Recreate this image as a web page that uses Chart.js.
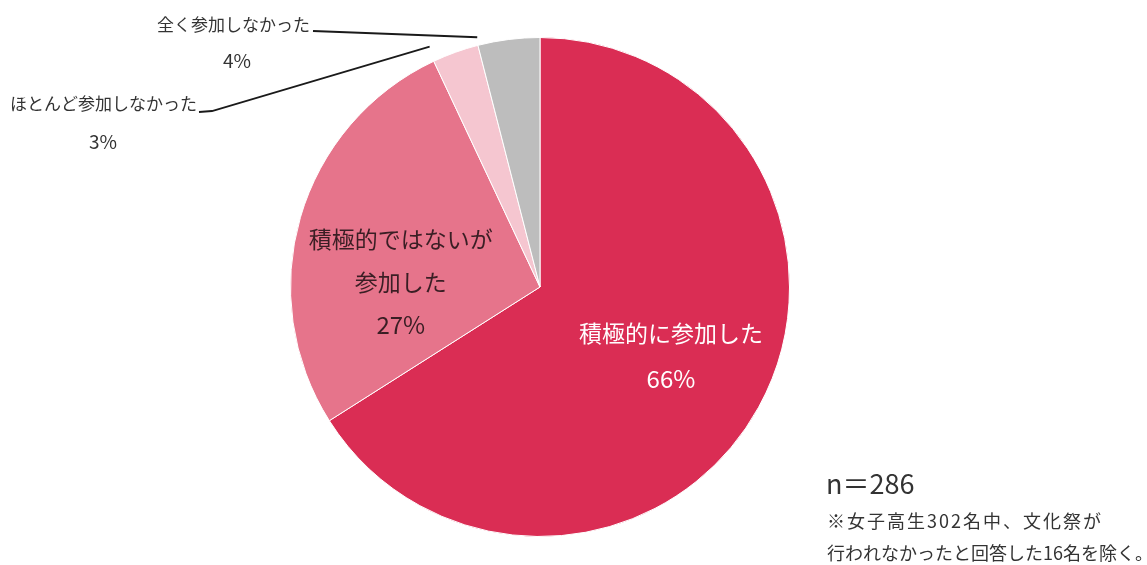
<!DOCTYPE html>
<html>
<head>
<meta charset="utf-8">
<script src="https://cdn.jsdelivr.net/npm/chart.js@4.4.0/dist/chart.umd.min.js"></script>
<style>
  html, body { margin: 0; padding: 0; background: #fff; }
  .wrap { position: relative; width: 1147px; height: 565px; }
</style>
</head>
<body>
<div class="wrap">
  <canvas id="canvas" width="1147" height="565"></canvas>
</div>
<script>
// survey answers (share of respondents, %)
const categories = ['積極的に参加した', '積極的ではないが参加した', 'ほとんど参加しなかった', '全く参加しなかった'];
const values = [66, 27, 3, 4];
const sampleNote = 'n＝286';
const footNotes = ['※女子高生302名中、文化祭が', '行われなかったと回答した16名を除く。'];

const colors = ['#da2d54', '#e6748b', '#f5c6d0', '#bdbdbd'];
const FONT = '"Noto Sans CJK JP", "Noto Sans", sans-serif';

// labels drawn inside the slices
const insideLabels = [
  { index: 0, lines: ['積極的に参加した'], factor: 0.59, dx: 2, dy: -2, lh: 45, color: '#ffffff' },
  { index: 1, lines: ['積極的ではないが', '参加した'], factor: 0.56, dx: -5, dy: 34, lh: 43, color: '#3a1e24' },
];

// labels outside with leader lines
const outsideLabels = [
  { index: 3, text: { x: 310, y: 25 }, pct: { x: 237, y: 61 }, from: [[313, 31]], frac: 0.02, out: 8 },
  { index: 2, text: { x: 197, y: 104 }, pct: { x: 103, y: 142 }, from: [[199, 112], [212, 111]], frac: 0.05, out: 15 },
];

const labelPlugin = {
  id: 'pieLabels',
  afterDraw(chart) {
    const ctx = chart.ctx;
    const arcs = chart.getDatasetMeta(0).data;
    ctx.save();
    ctx.textAlign = 'center';
    ctx.textBaseline = 'middle';

    insideLabels.forEach((l) => {
      const arc = arcs[l.index];
      const mid = (arc.startAngle + arc.endAngle) / 2;
      const r = arc.outerRadius * l.factor;
      const cx = arc.x + Math.cos(mid) * r + l.dx;
      const cy = arc.y + Math.sin(mid) * r + l.dy;
      const lines = [...l.lines, values[l.index] + '%'];
      const y0 = cy - ((lines.length - 1) * l.lh) / 2;
      ctx.fillStyle = l.color;
      lines.forEach((t, i) => {
        ctx.font = (i === lines.length - 1 ? '24px ' : '23px ') + FONT;
        ctx.fillText(t, cx, y0 + i * l.lh);
      });
    });

    outsideLabels.forEach((l) => {
      const arc = arcs[l.index];
      const a = arc.startAngle + (arc.endAngle - arc.startAngle) * l.frac;
      const ex = arc.x + Math.cos(a) * (arc.outerRadius + l.out);
      const ey = arc.y + Math.sin(a) * (arc.outerRadius + l.out);
      ctx.strokeStyle = '#1a1a1a';
      ctx.lineWidth = 1.8;
      ctx.beginPath();
      ctx.moveTo(l.from[0][0], l.from[0][1]);
      l.from.slice(1).forEach((p) => ctx.lineTo(p[0], p[1]));
      ctx.lineTo(ex, ey);
      ctx.stroke();

      ctx.fillStyle = '#333333';
      ctx.font = '17px ' + FONT;
      ctx.textAlign = 'right';
      ctx.fillText(categories[l.index], l.text.x, l.text.y);
      ctx.textAlign = 'center';
      ctx.font = '19px ' + FONT;
      ctx.fillText(values[l.index] + '%', l.pct.x, l.pct.y);
    });

    // sample size and notes
    ctx.textAlign = 'left';
    ctx.fillStyle = '#333333';
    ctx.font = '27px ' + FONT;
    ctx.fillText(sampleNote, 826, 484);
    ctx.font = '18px ' + FONT;
    ctx.letterSpacing = '2px';
    ctx.fillText(footNotes[0], 827, 521);
    ctx.letterSpacing = '0px';
    ctx.fillText(footNotes[1], 827, 553);
    ctx.restore();
  },
};

new Chart(document.getElementById('canvas'), {
  type: 'pie',
  data: {
    labels: categories,
    datasets: [
      {
        data: values,
        backgroundColor: colors,
        borderColor: '#ffffff',
        borderWidth: 1,
      },
    ],
  },
  options: {
    responsive: false,
    animation: false,
    layout: {
      padding: { left: 290, right: 357, top: 37, bottom: 28 },
    },
    plugins: {
      legend: { display: false },
      tooltip: { enabled: false },
    },
  },
  plugins: [labelPlugin],
});
</script>
</body>
</html>
